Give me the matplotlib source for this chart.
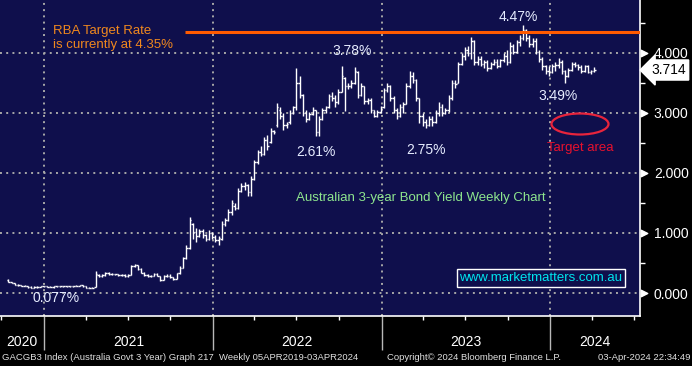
import matplotlib
matplotlib.use("Agg")
import matplotlib.pyplot as plt
import matplotlib.dates as mdates
import matplotlib.transforms as mtransforms
from matplotlib.patches import Ellipse
from datetime import datetime
import numpy as np
import pandas as pd

plt.rcParams['font.family'] = ['Liberation Sans', 'DejaVu Sans']

# GACGB3 weekly bars, Oct 2020 -> Apr 2024
last_week = "2024-04-05"
opens = [.22, .19, .16, .14, .13, .12, .12, .10, .09, .10,
         .10, .11, .11, .10, .10, .11, .11, .11, .11, .11,
         .11, .11, .12, .13, .11, .09, .09, .10, .30, .28,
         .30, .34, .31, .31, .31, .30, .30, .28, .30, .45,
         .46, .40, .34, .30, .28, .29, .32, .29, .22, .28,
         .29, .27, .24, .33, .42, .58, .75, 1.15, 1.02, .95,
         1.03, .96, .90, 1.00, .93, .88, .90, 1.15, 1.22, 1.35,
         1.45, 1.42, 1.70, 1.78, 1.80, 1.68, 1.90, 2.18, 2.35, 2.32,
         2.55, 2.52, 2.70, 2.80, 3.05, 2.95, 2.80, 2.85, 3.00, 3.10,
         3.50, 3.30, 3.00, 2.90, 2.98, 3.05, 2.68, 2.90, 3.05, 3.10,
         3.28, 3.25, 3.18, 3.35, 3.58, 3.45, 3.45, 3.50, 3.68, 3.30,
         3.45, 3.20, 3.22, 3.05, 2.95, 3.02, 3.10, 3.38, 3.45, 3.25,
         3.05, 2.95, 3.10, 3.15, 3.45, 3.62, 3.55, 3.25, 2.95, 2.85,
         2.80, 2.90, 2.85, 3.00, 3.10, 3.00, 3.05, 3.25, 3.50, 3.50,
         3.82, 3.95, 4.05, 4.00, 4.20, 3.85, 3.90, 3.82, 3.85, 3.75,
         3.82, 3.85, 3.78, 3.88, 3.95, 3.85, 4.12, 4.02, 4.18, 4.25,
         4.38, 4.25, 4.15, 4.20, 4.02, 3.90, 3.78, 3.70, 3.68, 3.78,
         3.80, 3.85, 3.70, 3.62, 3.72, 3.82, 3.80, 3.76, 3.70, 3.78,
         3.68, 3.70]
highs = [.23, .19, .17, .15, .14, .13, .12, .11, .11, .11,
         .11, .12, .12, .11, .11, .11, .12, .11, .11, .12,
         .12, .13, .14, .13, .12, .10, .10, .36, .32, .31,
         .35, .35, .33, .32, .32, .31, .31, .31, .47, .48,
         .46, .41, .35, .31, .30, .33, .33, .29, .30, .31,
         .31, .27, .34, .45, .60, .80, 1.27, 1.17, 1.08, 1.07,
         1.06, .98, 1.05, 1.02, .97, .95, 1.20, 1.25, 1.40, 1.55,
         1.50, 1.75, 1.83, 1.85, 1.82, 1.95, 2.22, 2.38, 2.45, 2.60,
         2.63, 2.75, 2.72, 3.17, 3.10, 3.00, 2.85, 3.05, 3.12, 3.75,
         3.62, 3.32, 3.05, 3.02, 3.10, 3.05, 2.95, 3.08, 3.12, 3.32,
         3.35, 3.30, 3.40, 3.78, 3.60, 3.50, 3.55, 3.77, 3.70, 3.50,
         3.45, 3.25, 3.25, 3.05, 3.05, 3.12, 3.42, 3.50, 3.47, 3.28,
         3.08, 3.15, 3.18, 3.50, 3.70, 3.68, 3.57, 3.25, 3.00, 2.90,
         2.95, 2.95, 3.05, 3.18, 3.15, 3.08, 3.30, 3.55, 3.55, 3.85,
         4.00, 4.10, 4.12, 4.27, 4.22, 3.95, 3.95, 3.88, 3.88, 3.85,
         3.90, 3.90, 3.90, 4.00, 4.05, 4.18, 4.15, 4.22, 4.30, 4.47,
         4.40, 4.30, 4.25, 4.25, 4.05, 3.93, 3.80, 3.78, 3.82, 3.85,
         3.92, 3.88, 3.72, 3.75, 3.85, 3.85, 3.82, 3.80, 3.80, 3.80,
         3.72, 3.76]
lows = [.18, .16, .14, .12, .11, .11, .09, .077, .09, .09,
        .10, .10, .10, .10, .09, .10, .10, .10, .10, .10,
        .10, .11, .11, .10, .09, .08, .08, .10, .27, .27,
        .29, .30, .30, .30, .29, .28, .27, .26, .30, .43,
        .38, .33, .28, .27, .27, .28, .28, .20, .21, .26,
        .25, .22, .23, .32, .42, .57, .73, .90, .85, .93,
        .92, .86, .89, .90, .85, .80, .88, 1.12, 1.20, 1.30,
        1.38, 1.40, 1.68, 1.72, 1.62, 1.62, 1.88, 2.15, 2.28, 2.30,
        2.38, 2.50, 2.65, 2.77, 2.90, 2.72, 2.75, 2.82, 2.98, 3.05,
        3.25, 2.95, 2.85, 2.88, 2.96, 2.62, 2.61, 2.88, 3.00, 3.08,
        3.20, 3.10, 3.15, 3.35, 3.03, 3.40, 3.42, 3.48, 3.25, 3.28,
        3.15, 3.15, 3.00, 2.93, 2.93, 3.00, 3.08, 3.35, 3.20, 3.00,
        2.90, 2.93, 3.00, 3.15, 3.42, 3.50, 3.20, 2.83, 2.78, 2.75,
        2.78, 2.78, 2.83, 2.95, 2.95, 2.98, 3.02, 3.22, 3.42, 3.50,
        3.80, 3.88, 3.95, 3.90, 3.80, 3.80, 3.78, 3.75, 3.70, 3.73,
        3.80, 3.75, 3.76, 3.85, 3.80, 3.83, 3.98, 4.00, 4.12, 4.22,
        4.20, 4.10, 4.10, 3.98, 3.85, 3.72, 3.65, 3.62, 3.66, 3.70,
        3.75, 3.65, 3.49, 3.60, 3.70, 3.76, 3.72, 3.66, 3.68, 3.66,
        3.65, 3.68]
closes = [.19, .16, .14, .13, .12, .12, .10, .09, .10, .10,
          .11, .11, .10, .10, .11, .11, .11, .11, .11, .11,
          .11, .12, .13, .11, .09, .09, .09, .31, .28, .30,
          .34, .31, .31, .31, .30, .30, .28, .30, .45, .46,
          .40, .34, .30, .28, .29, .32, .29, .22, .28, .29,
          .27, .24, .33, .42, .58, .75, 1.22, 1.02, .95, 1.03,
          .96, .90, 1.00, .93, .88, .92, 1.15, 1.22, 1.35, 1.50,
          1.42, 1.70, 1.78, 1.80, 1.68, 1.90, 2.18, 2.35, 2.32, 2.55,
          2.45, 2.70, 2.68, 3.10, 2.95, 2.80, 2.82, 3.00, 3.10, 3.50,
          3.30, 3.00, 2.90, 2.98, 3.05, 2.68, 2.90, 3.05, 3.10, 3.28,
          3.25, 3.18, 3.35, 3.62, 3.45, 3.45, 3.50, 3.70, 3.30, 3.45,
          3.20, 3.22, 3.05, 2.95, 3.02, 3.10, 3.38, 3.45, 3.25, 3.05,
          2.95, 3.10, 3.15, 3.45, 3.62, 3.55, 3.25, 2.95, 2.85, 2.80,
          2.90, 2.85, 3.00, 3.10, 3.00, 3.05, 3.25, 3.50, 3.48, 3.82,
          3.95, 4.05, 4.00, 4.20, 3.85, 3.90, 3.82, 3.85, 3.75, 3.82,
          3.85, 3.78, 3.88, 3.95, 3.85, 4.12, 4.02, 4.18, 4.25, 4.38,
          4.25, 4.15, 4.20, 4.02, 3.90, 3.78, 3.70, 3.68, 3.78, 3.80,
          3.85, 3.70, 3.62, 3.72, 3.82, 3.80, 3.76, 3.70, 3.78, 3.68,
          3.70, 3.714]

rba_rate = 4.35
y_ticks = [0, 1, 2, 3, 4]
years = [2020, 2021, 2022, 2023, 2024]
callouts = ["4.47%", "3.78%", "2.61%", "2.75%", "3.49%", "0.077%"]

weeks = pd.date_range(end=last_week, periods=len(closes), freq="7D")
x = mdates.date2num(weeks.to_pydatetime())

W, H = 692, 366
fig = plt.figure(figsize=(W / 100, H / 100), dpi=100, facecolor="black")
ax = fig.add_axes([0, 50 / H, 640 / W, 316 / H], facecolor="#0f0f4c")

# OHLC bars
ax.vlines(x, lows, highs, color="white", lw=1.0, zorder=3)
ax.hlines(opens, x - 3.2, x, color="white", lw=1.0, zorder=3)
ax.hlines(closes, x, x + 3.2, color="white", lw=1.0, zorder=3)

x0 = mdates.date2num(datetime(2020, 9, 28))
x1 = mdates.date2num(datetime(2024, 7, 13))
ax.set_xlim(x0, x1)
ax.set_ylim(-0.383, 4.88)

# RBA cash rate line
ax.hlines(rba_rate, mdates.date2num(datetime(2021, 11, 1)), x1,
          color="#ff5a00", lw=2.2, zorder=4)

# axes / spines
for s in ["left", "top"]:
    ax.spines[s].set_visible(False)
for s in ["right", "bottom"]:
    ax.spines[s].set_color("white")
    ax.spines[s].set_linewidth(1.2)

year_starts = [mdates.date2num(datetime(y, 1, 1)) for y in years[1:]]
quarters = [mdates.date2num(d.to_pydatetime())
            for d in pd.date_range("2020-10-01", "2024-07-01", freq="QS")
            if d.month != 1]
ax.set_xticks(year_starts)
ax.set_xticks(quarters, minor=True)
ax.set_xticklabels([])
ax.tick_params(axis="x", which="major", length=24.5, color="#b8b8b8", width=1, direction="out")
ax.tick_params(axis="x", which="minor", length=3, color="white", width=1, direction="out")

ax.yaxis.tick_right()
ax.set_yticks(y_ticks)
ax.set_yticklabels(["{:.3f}".format(v) for v in y_ticks])
ax.set_yticks([v + 0.5 for v in y_ticks], minor=True)
ax.tick_params(axis="y", which="major", length=0, pad=10, labelcolor="white", labelsize=10)
ax.tick_params(axis="y", which="minor", length=3.5, color="white", width=1, direction="out")

ax.grid(True, which="major", color="#a8a8a8", ls=(0, (1, 2.2)), lw=1.4, zorder=1)

bt = mtransforms.blended_transform_factory(ax.transAxes, ax.transData)
ax.scatter([1 + 4 / 640] * len(y_ticks), y_ticks, marker=">", s=22, color="white",
           transform=bt, clip_on=False, zorder=6)

# year labels centred on the visible part of each year
bx = mtransforms.blended_transform_factory(ax.transData, ax.transAxes)
for y in years:
    s = max(mdates.date2num(datetime(y, 1, 1)), x0)
    e = min(mdates.date2num(datetime(y + 1, 1, 1)), x1)
    ax.text((s + e) / 2, -26 / 316, str(y), transform=bx, ha="center", va="center",
            color="white", fontsize=10)

# last value tag
ax.text(1 + 11 / 640, closes[-1], "{:.3f}".format(closes[-1]), transform=bt,
        ha="left", va="center", fontsize=10, color="black", zorder=7,
        bbox=dict(boxstyle="larrow,pad=0.22", fc="white", ec="white"))


def ap(px, py):
    return px / 640, 1 - py / 316


lab = dict(transform=ax.transAxes, ha="center", va="center", fontsize=10, color="#e6ecff", zorder=6)
pos = [(518, 17), (352, 51), (316, 152), (426, 150), (558, 96), (56, 298)]
for t, p in zip(callouts, pos):
    ax.text(*ap(*p), t, **lab)

ax.text(*ap(53, 38), "RBA Target Rate\nis currently at 4.35%", transform=ax.transAxes,
        ha="left", va="center", fontsize=9.5, color="#f0881e", linespacing=1.2)
ax.text(*ap(421, 198), "Australian 3-year Bond Yield Weekly Chart", transform=ax.transAxes,
        ha="center", va="center", fontsize=9.5, color="#8ee68e")
ax.text(*ap(580, 148), "Target area", transform=ax.transAxes,
        ha="center", va="center", fontsize=9.5, color="#e8112d")
ax.add_patch(Ellipse(ap(580, 124), 57 / 640, 21 / 316, transform=ax.transAxes,
                     fill=False, ec="#e8243c", lw=1.6, zorder=6))
ax.text(*ap(541, 278), "www.marketmatters.com.au", transform=ax.transAxes,
        ha="center", va="center", fontsize=9.5, color="#00e5ee", zorder=6,
        bbox=dict(boxstyle="square,pad=0.2", fc="#0f0f4c", ec="white", lw=1))

# footer
fy = 1 - 358 / H
fig.text(2 / W, fy, "GACGB3 Index (Australia Govt 3 Year) Graph 217  Weekly 05APR2019-03APR2024",
         ha="left", va="center", fontsize=6.8, color="#e0e0e0")
fig.text(387 / W, fy, "Copyright\u00a9 2024 Bloomberg Finance L.P.",
         ha="left", va="center", fontsize=6.8, color="#e0e0e0")
fig.text(690 / W, fy, "03-Apr-2024 22:34:49",
         ha="right", va="center", fontsize=6.8, color="#e0e0e0")

fig.savefig("out.png", dpi=100, facecolor="black")
